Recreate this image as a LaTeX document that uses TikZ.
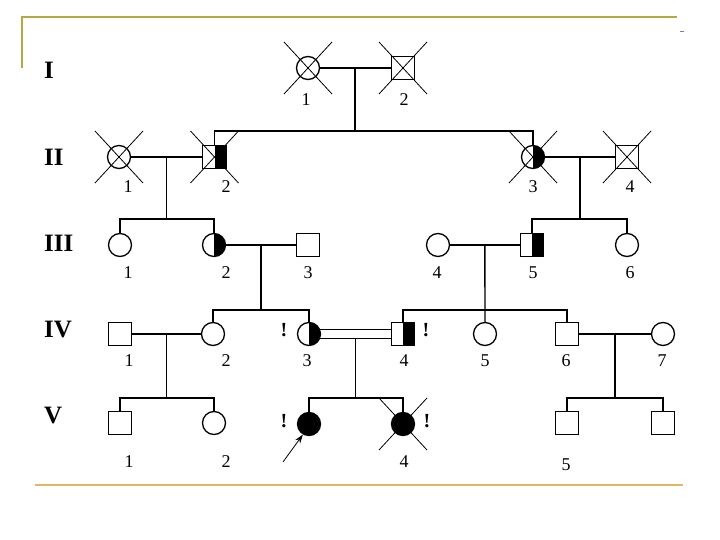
\documentclass[tikz,border=0pt]{standalone}
\usepackage{fontspec}
\setmainfont{Liberation Serif}
\usetikzlibrary{arrows.meta}
\definecolor{frameolive}{RGB}{184,166,64}
\definecolor{frametan}{RGB}{222,184,100}
\tikzset{
    female/.style={circle, draw, line width=1.3pt, minimum size=23pt, inner sep=0pt},
    male/.style={rectangle, draw, line width=1.3pt, minimum size=23.5pt, inner sep=0pt},
    carrier/.style={path picture={\fill[black] (path picture bounding box.north) rectangle (path picture bounding box.south east);}},
    affected/.style={fill=black},
    marr/.style={line width=1.4pt},
    sib/.style={line width=1.8pt},
    xcross/.style={line width=0.8pt},
    num/.style={font=\fontsize{18}{18}\selectfont, inner sep=0pt},
    gen/.style={font=\fontsize{25}{25}\selectfont\bfseries, anchor=west, inner sep=0pt},
    bang/.style={font=\fontsize{20}{20}\selectfont\bfseries, inner sep=0pt}
}
\newcommand{\deadcross}[1]{%
    \draw[xcross] ([shift={(-24,-26)}]#1.center) -- ([shift={(24,26)}]#1.center);
    \draw[xcross] ([shift={(-24,26)}]#1.center) -- ([shift={(24,-26)}]#1.center);}
\begin{document}
\begin{tikzpicture}[x=1pt,y=-1pt]
    \useasboundingbox (0,0) rectangle (720,540);
    % frame
    \draw[frameolive, line width=2.5pt] (22,68) -- (22,17) -- (677,17);
    \draw[gray, line width=0.6pt] (680,31) -- (684,31);
    \draw[frametan, line width=2.8pt] (35,485) -- (683,485);

    % generation numerals
    \foreach \y/\g in {70/I,157/II,243/III,330/IV,416/V} {
        \node[gen] (gen\g) at (44,\y) {\g};
    }

    % sibship levels
    \coordinate (s2) at (0,131);
    \coordinate (s3) at (0,219);
    \coordinate (s4) at (0,310);
    \coordinate (s5) at (0,398);

    % I
    \node[female] (g1n1) at (308,68) {};
    \node[male] (g1n2) at (403,68) {};
    % II
    \node[female] (g2n1) at (119,157) {};
    \node[male,carrier] (g2n2) at (214.5,157) {};
    \node[female,carrier] (g2n3) at (533,157) {};
    \node[male] (g2n4) at (627,157) {};
    % III
    \node[female] (g3n1) at (120,245) {};
    \node[female,carrier] (g3n2) at (214,245) {};
    \node[male] (g3n3) at (308,245) {};
    \node[female] (g3n4) at (438,245) {};
    \node[male,carrier] (g3n5) at (532,245) {};
    \node[female] (g3n6) at (627,245) {};
    % IV
    \node[male] (g4n1) at (120,334) {};
    \node[female] (g4n2) at (213,334) {};
    \node[female,carrier] (g4n3) at (309,334) {};
    \node[male,carrier] (g4n4) at (403,334) {};
    \node[female] (g4n5) at (485,334) {};
    \node[male] (g4n6) at (567,334) {};
    \node[female] (g4n7) at (663,334) {};
    % V
    \node[male] (g5n1) at (120,423) {};
    \node[female] (g5n2) at (214,423) {};
    \node[female,affected] (g5n3) at (309,424) {};
    \node[female,affected] (g5n4) at (403,424) {};
    \node[male] (g5n5) at (567,423) {};
    \node[male] (g5n6) at (663,423) {};

    % deceased
    \deadcross{g1n1}
    \deadcross{g1n2}
    \deadcross{g2n1}
    \deadcross{g2n2}
    \deadcross{g2n3}
    \deadcross{g2n4}
    \deadcross{g5n4}

    % marriages
    \draw[marr] (g1n1) -- coordinate (m1) (g1n2);
    \draw[marr] (g2n1) -- coordinate (m2) (g2n2);
    \draw[marr] (g2n3) -- coordinate (m3) (g2n4);
    \draw[marr] (g3n2) -- coordinate (m4) (g3n3);
    \draw[marr] (g3n4) -- coordinate (m5) (g3n5);
    \draw[marr] (g4n1) -- coordinate (m6) (g4n2);
    \draw[marr] (g4n3.23) -- (g4n3.23 -| g4n4.west);
    \draw[marr] (g4n3.-23) -- coordinate (m7) (g4n3.-23 -| g4n4.west);
    \draw[marr] (g4n6) -- coordinate (m8) (g4n7);

    % descent lines
    \draw[sib] (m1) -- (m1 |- s2);
    \draw[sib] (g2n2.north) |- (s2 -| g2n3) -- (g2n3.north);
    \draw[marr] (m2) -- (m2 |- s3);
    \draw[sib] (g3n1.north) |- (s3 -| g3n2) -- (g3n2.north);
    \draw[marr] (m3) -- (m3 |- s3);
    \draw[sib] (g3n5.north) |- (s3 -| g3n6) -- (g3n6.north);
    \draw[marr] (m4) -- (m4 |- s4);
    \draw[sib] (g4n2.north) |- (s4 -| g4n3) -- (g4n3.north);
    \draw[marr] (m5) -- (g4n5.north);
    \draw[sib] (g4n4.north) |- (s4 -| g4n6) -- (g4n6.north);
    \draw[marr] (m6) -- (m6 |- s5);
    \draw[sib] (g5n1.north) |- (s5 -| g5n2) -- (g5n2.north);
    \draw[marr] (m7) -- (m7 |- s5);
    \draw[sib] (g5n3.north) |- (s5 -| g5n4) -- (g5n4.north);
    \draw[marr] (m8) -- (m8 |- s5);
    \draw[sib] (g5n5.north) |- (s5 -| g5n6) -- (g5n6.north);

    % proband
    \coordinate (pb) at (283,462);
    \draw[line width=0.8pt, -{Stealth[length=9pt,width=6pt]}] (pb) -- (g5n3.240);

    % marks
    \node[bang] (bang1) at (284,330) {!};
    \node[bang] (bang2) at (426,330) {!};
    \node[bang] (bang3) at (284,421) {!};
    \node[bang] (bang4) at (427,421) {!};

    % numbers
    \foreach \x/\y/\t [count=\c] in {306/100/1,404/100/2,
        128/187/1,226/187/2,533/187/3,630/187/4,
        128/273/1,226/273/2,308/273/3,437/273/4,533/273/5,630/273/6,
        129/361/1,226/361/2,307/361/3,404/361/4,485/361/5,566/361/6,662/361/7,
        129/462/1,226/462/2,404/462/4,566/465/5} {
        \node[num] (lab\c) at (\x,\y) {\t};
    }
\end{tikzpicture}
\end{document}
